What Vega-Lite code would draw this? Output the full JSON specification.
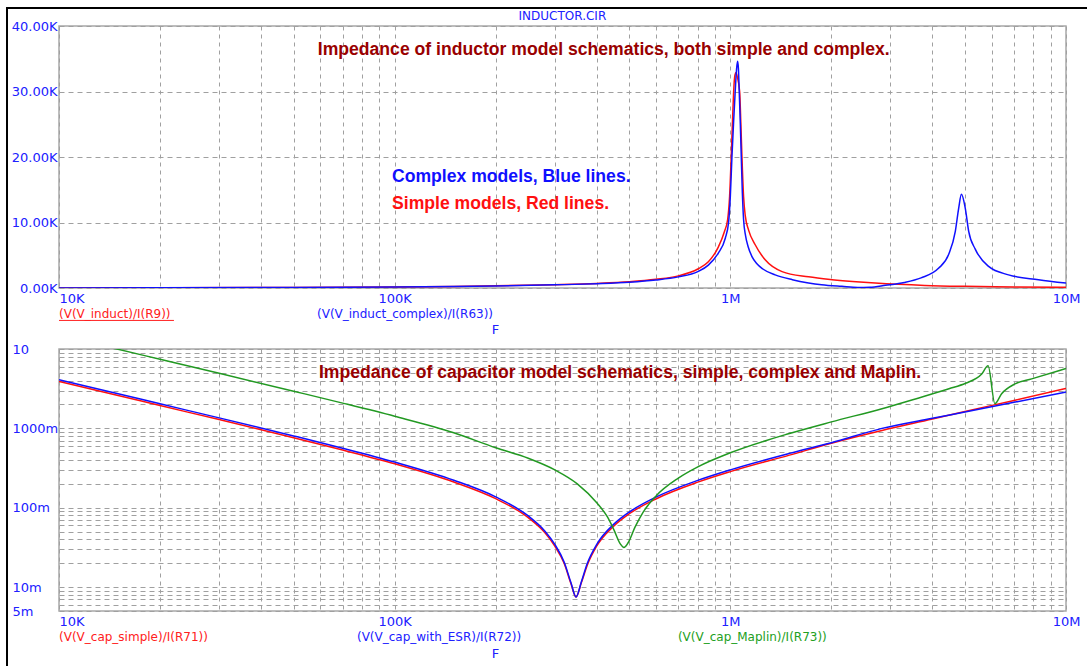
{
  "$schema": "https://vega.github.io/schema/vega-lite/v6.json",
  "background": "white",
  "padding": {"left": 4, "top": 6, "right": 0, "bottom": 0},
  "config": {
    "view": {"stroke": "#a8a8a8", "strokeWidth": 1.5},
    "font": "DejaVu Sans"
  },
  "datasets": {
    "inductor": [
      {"f": 10000, "z": 16, "s": "simple"},
      {"f": 20000, "z": 32, "s": "simple"},
      {"f": 50000, "z": 79, "s": "simple"},
      {"f": 100000, "z": 160, "s": "simple"},
      {"f": 150000, "z": 240, "s": "simple"},
      {"f": 200000, "z": 330, "s": "simple"},
      {"f": 300000, "z": 510, "s": "simple"},
      {"f": 400000, "z": 700, "s": "simple"},
      {"f": 500000, "z": 950, "s": "simple"},
      {"f": 600000, "z": 1320, "s": "simple"},
      {"f": 700000, "z": 1850, "s": "simple"},
      {"f": 800000, "z": 2900, "s": "simple"},
      {"f": 860000, "z": 4000, "s": "simple"},
      {"f": 920000, "z": 6200, "s": "simple"},
      {"f": 960000, "z": 8600, "s": "simple"},
      {"f": 982000, "z": 10500, "s": "simple"},
      {"f": 995000, "z": 14000, "s": "simple"},
      {"f": 1006000, "z": 20000, "s": "simple"},
      {"f": 1015000, "z": 25500, "s": "simple"},
      {"f": 1023000, "z": 30000, "s": "simple"},
      {"f": 1032000, "z": 32500, "s": "simple"},
      {"f": 1040000, "z": 32900, "s": "simple"},
      {"f": 1048000, "z": 32300, "s": "simple"},
      {"f": 1066000, "z": 30000, "s": "simple"},
      {"f": 1075000, "z": 25000, "s": "simple"},
      {"f": 1083000, "z": 20000, "s": "simple"},
      {"f": 1095000, "z": 14000, "s": "simple"},
      {"f": 1108000, "z": 11000, "s": "simple"},
      {"f": 1134000, "z": 8800, "s": "simple"},
      {"f": 1186000, "z": 6600, "s": "simple"},
      {"f": 1270000, "z": 4300, "s": "simple"},
      {"f": 1426000, "z": 2500, "s": "simple"},
      {"f": 1710000, "z": 1700, "s": "simple"},
      {"f": 2010000, "z": 1270, "s": "simple"},
      {"f": 2370000, "z": 950, "s": "simple"},
      {"f": 2700000, "z": 750, "s": "simple"},
      {"f": 3800000, "z": 400, "s": "simple"},
      {"f": 5000000, "z": 260, "s": "simple"},
      {"f": 7000000, "z": 160, "s": "simple"},
      {"f": 10000000, "z": 100, "s": "simple"},
      {"f": 10000, "z": 15, "s": "complex"},
      {"f": 50000, "z": 75, "s": "complex"},
      {"f": 100000, "z": 150, "s": "complex"},
      {"f": 150000, "z": 230, "s": "complex"},
      {"f": 200000, "z": 310, "s": "complex"},
      {"f": 300000, "z": 480, "s": "complex"},
      {"f": 400000, "z": 660, "s": "complex"},
      {"f": 500000, "z": 880, "s": "complex"},
      {"f": 600000, "z": 1220, "s": "complex"},
      {"f": 700000, "z": 1700, "s": "complex"},
      {"f": 800000, "z": 2500, "s": "complex"},
      {"f": 860000, "z": 3500, "s": "complex"},
      {"f": 920000, "z": 5300, "s": "complex"},
      {"f": 966000, "z": 7600, "s": "complex"},
      {"f": 988000, "z": 10000, "s": "complex"},
      {"f": 1000000, "z": 14000, "s": "complex"},
      {"f": 1011000, "z": 20000, "s": "complex"},
      {"f": 1023000, "z": 25500, "s": "complex"},
      {"f": 1034000, "z": 30000, "s": "complex"},
      {"f": 1044000, "z": 33500, "s": "complex"},
      {"f": 1051000, "z": 34600, "s": "complex"},
      {"f": 1057000, "z": 33500, "s": "complex"},
      {"f": 1063000, "z": 30000, "s": "complex"},
      {"f": 1071000, "z": 25000, "s": "complex"},
      {"f": 1078000, "z": 20000, "s": "complex"},
      {"f": 1086000, "z": 14500, "s": "complex"},
      {"f": 1095000, "z": 10500, "s": "complex"},
      {"f": 1110000, "z": 8000, "s": "complex"},
      {"f": 1130000, "z": 6300, "s": "complex"},
      {"f": 1160000, "z": 4800, "s": "complex"},
      {"f": 1200000, "z": 3700, "s": "complex"},
      {"f": 1250000, "z": 2900, "s": "complex"},
      {"f": 1360000, "z": 2000, "s": "complex"},
      {"f": 1530000, "z": 1270, "s": "complex"},
      {"f": 1710000, "z": 780, "s": "complex"},
      {"f": 1870000, "z": 500, "s": "complex"},
      {"f": 2150000, "z": 250, "s": "complex"},
      {"f": 2400000, "z": 90, "s": "complex"},
      {"f": 2600000, "z": 120, "s": "complex"},
      {"f": 2900000, "z": 420, "s": "complex"},
      {"f": 3300000, "z": 850, "s": "complex"},
      {"f": 3700000, "z": 1550, "s": "complex"},
      {"f": 4170000, "z": 3000, "s": "complex"},
      {"f": 4470000, "z": 5100, "s": "complex"},
      {"f": 4680000, "z": 8650, "s": "complex"},
      {"f": 4790000, "z": 12200, "s": "complex"},
      {"f": 4880000, "z": 14300, "s": "complex"},
      {"f": 5010000, "z": 12200, "s": "complex"},
      {"f": 5130000, "z": 8650, "s": "complex"},
      {"f": 5370000, "z": 5900, "s": "complex"},
      {"f": 5880000, "z": 3300, "s": "complex"},
      {"f": 6740000, "z": 2000, "s": "complex"},
      {"f": 8280000, "z": 1270, "s": "complex"},
      {"f": 10000000, "z": 750, "s": "complex"}
    ],
    "capacitor": [
      {"f": 10000, "z": 3.9, "s": "simple"},
      {"f": 15000, "z": 2.6, "s": "simple"},
      {"f": 20000, "z": 1.94, "s": "simple"},
      {"f": 30000, "z": 1.29, "s": "simple"},
      {"f": 50000, "z": 0.764, "s": "simple"},
      {"f": 70000, "z": 0.534, "s": "simple"},
      {"f": 100000, "z": 0.358, "s": "simple"},
      {"f": 150000, "z": 0.211, "s": "simple"},
      {"f": 200000, "z": 0.13, "s": "simple"},
      {"f": 250000, "z": 0.075, "s": "simple"},
      {"f": 280000, "z": 0.0486, "s": "simple"},
      {"f": 300000, "z": 0.0328, "s": "simple"},
      {"f": 320000, "z": 0.0198, "s": "simple"},
      {"f": 335000, "z": 0.0111, "s": "simple"},
      {"f": 347000, "z": 0.0075, "s": "simple"},
      {"f": 360000, "z": 0.0114, "s": "simple"},
      {"f": 375000, "z": 0.019, "s": "simple"},
      {"f": 400000, "z": 0.033, "s": "simple"},
      {"f": 450000, "z": 0.059, "s": "simple"},
      {"f": 500000, "z": 0.084, "s": "simple"},
      {"f": 600000, "z": 0.129, "s": "simple"},
      {"f": 800000, "z": 0.21, "s": "simple"},
      {"f": 1000000, "z": 0.285, "s": "simple"},
      {"f": 1500000, "z": 0.46, "s": "simple"},
      {"f": 2000000, "z": 0.65, "s": "simple"},
      {"f": 2830000, "z": 0.94, "s": "simple"},
      {"f": 4000000, "z": 1.31, "s": "simple"},
      {"f": 5000000, "z": 1.63, "s": "simple"},
      {"f": 7000000, "z": 2.25, "s": "simple"},
      {"f": 10000000, "z": 3.18, "s": "simple"},
      {"f": 10000, "z": 4.1, "s": "esr"},
      {"f": 15000, "z": 2.73, "s": "esr"},
      {"f": 20000, "z": 2.04, "s": "esr"},
      {"f": 30000, "z": 1.356, "s": "esr"},
      {"f": 50000, "z": 0.803, "s": "esr"},
      {"f": 70000, "z": 0.562, "s": "esr"},
      {"f": 100000, "z": 0.376, "s": "esr"},
      {"f": 150000, "z": 0.222, "s": "esr"},
      {"f": 200000, "z": 0.137, "s": "esr"},
      {"f": 250000, "z": 0.0788, "s": "esr"},
      {"f": 280000, "z": 0.051, "s": "esr"},
      {"f": 300000, "z": 0.0345, "s": "esr"},
      {"f": 320000, "z": 0.0206, "s": "esr"},
      {"f": 335000, "z": 0.0114, "s": "esr"},
      {"f": 347000, "z": 0.0075, "s": "esr"},
      {"f": 360000, "z": 0.0117, "s": "esr"},
      {"f": 375000, "z": 0.02, "s": "esr"},
      {"f": 400000, "z": 0.0346, "s": "esr"},
      {"f": 450000, "z": 0.0622, "s": "esr"},
      {"f": 500000, "z": 0.0883, "s": "esr"},
      {"f": 600000, "z": 0.136, "s": "esr"},
      {"f": 800000, "z": 0.221, "s": "esr"},
      {"f": 1000000, "z": 0.3, "s": "esr"},
      {"f": 1500000, "z": 0.484, "s": "esr"},
      {"f": 2000000, "z": 0.66, "s": "esr"},
      {"f": 2830000, "z": 1.0, "s": "esr"},
      {"f": 4000000, "z": 1.34, "s": "esr"},
      {"f": 5000000, "z": 1.61, "s": "esr"},
      {"f": 7000000, "z": 2.13, "s": "esr"},
      {"f": 10000000, "z": 2.87, "s": "esr"},
      {"f": 10000, "z": 14.87, "s": "maplin"},
      {"f": 15000, "z": 9.91, "s": "maplin"},
      {"f": 20000, "z": 7.42, "s": "maplin"},
      {"f": 30000, "z": 4.94, "s": "maplin"},
      {"f": 50000, "z": 2.94, "s": "maplin"},
      {"f": 70000, "z": 2.08, "s": "maplin"},
      {"f": 100000, "z": 1.42, "s": "maplin"},
      {"f": 150000, "z": 0.88, "s": "maplin"},
      {"f": 200000, "z": 0.57, "s": "maplin"},
      {"f": 250000, "z": 0.42, "s": "maplin"},
      {"f": 300000, "z": 0.3, "s": "maplin"},
      {"f": 350000, "z": 0.2, "s": "maplin"},
      {"f": 400000, "z": 0.1155, "s": "maplin"},
      {"f": 430000, "z": 0.077, "s": "maplin"},
      {"f": 450000, "z": 0.0527, "s": "maplin"},
      {"f": 470000, "z": 0.0351, "s": "maplin"},
      {"f": 482000, "z": 0.0316, "s": "maplin"},
      {"f": 495000, "z": 0.0357, "s": "maplin"},
      {"f": 520000, "z": 0.0569, "s": "maplin"},
      {"f": 550000, "z": 0.088, "s": "maplin"},
      {"f": 600000, "z": 0.14, "s": "maplin"},
      {"f": 700000, "z": 0.236, "s": "maplin"},
      {"f": 800000, "z": 0.327, "s": "maplin"},
      {"f": 1000000, "z": 0.492, "s": "maplin"},
      {"f": 1500000, "z": 0.862, "s": "maplin"},
      {"f": 2000000, "z": 1.207, "s": "maplin"},
      {"f": 2830000, "z": 1.77, "s": "maplin"},
      {"f": 3560000, "z": 2.35, "s": "maplin"},
      {"f": 4480000, "z": 3.15, "s": "maplin"},
      {"f": 5020000, "z": 3.7, "s": "maplin"},
      {"f": 5610000, "z": 4.84, "s": "maplin"},
      {"f": 5860000, "z": 6.14, "s": "maplin"},
      {"f": 6140000, "z": 2.05, "s": "maplin"},
      {"f": 6430000, "z": 2.73, "s": "maplin"},
      {"f": 7050000, "z": 3.63, "s": "maplin"},
      {"f": 7900000, "z": 4.2, "s": "maplin"},
      {"f": 10000000, "z": 5.69, "s": "maplin"}
    ]
  },
  "bounds": "flush",
  "spacing": 61,
  "resolve": {"scale": {"color": "independent"}},
  "vconcat": [
    {
      "width": 1007,
      "height": 262,
      "layer": [
        {
          "data": {"name": "inductor"},
          "mark": {"type": "line", "strokeWidth": 1.5, "clip": true, "interpolate": "monotone"},
          "encoding": {
            "x": {"field": "f", "type": "quantitative",
              "scale": {"type": "log", "domain": [10000, 10000000], "nice": false},
              "axis": {
                "values": [10000,20000,30000,40000,50000,60000,70000,80000,90000,100000,200000,300000,400000,500000,600000,700000,800000,900000,1000000,2000000,3000000,4000000,5000000,6000000,7000000,8000000,9000000,10000000],
                "labelExpr": "datum.value == 10000 ? '10K' : datum.value == 100000 ? '100K' : datum.value == 1000000 ? '1M' : datum.value == 10000000 ? '10M' : ''",
                "grid": true, "gridDash": [4, 4], "gridColor": "#a0a0a0", "gridWidth": 1,
                "ticks": false, "domain": false,
                "labelColor": "#2020ff", "labelFontSize": 13, "labelFont": "DejaVu Sans", "labelPadding": 4,
                "labelAlign": {"condition": {"test": "datum.value <= 10000", "value": "left"}, "value": "center"},
                "labelFlush": false, "labelOverlap": false,
                "title": "F", "titleColor": "#2020ff", "titleFont": "DejaVu Sans", "titleFontWeight": "normal", "titleFontSize": 13,
                "titleX": 436, "titleY": 41, "titleBaseline": "middle", "titleAlign": "center"
              }},
            "y": {"field": "z", "type": "quantitative",
              "scale": {"domain": [0, 40000], "nice": false},
              "axis": {
                "values": [0, 10000, 20000, 30000, 40000],
                "labelExpr": "format(datum.value / 1000, '.2f') + 'K'",
                "grid": true, "gridDash": [5, 4], "gridColor": "#a0a0a0", "gridWidth": 1,
                "ticks": false, "domain": false,
                "labelColor": "#2020ff", "labelFontSize": 13, "labelFont": "DejaVu Sans", "labelPadding": 2,
                "labelAlign": "right", "labelBaseline": "middle", "labelFlush": false, "labelOverlap": false,
                "title": null
              }},
            "color": {"field": "s", "type": "nominal", "scale": {"domain": ["simple", "complex"], "range": ["#ff1010", "#1010ff"]}, "legend": null}
          }
        },
        {
          "data": {"values": [{}]},
          "mark": {"type": "text", "align": "center", "baseline": "middle", "font": "DejaVu Sans", "fontSize": 12, "color": "#2020ff"},
          "encoding": {"x": {"datum": 316000, "type": "quantitative"}, "y": {"datum": 41500, "type": "quantitative"}, "text": {"value": "INDUCTOR.CIR"}}
        },
        {
          "data": {"values": [{}]},
          "mark": {"type": "text", "align": "left", "baseline": "middle", "font": "Liberation Sans", "fontSize": 17.6, "fontWeight": "bold", "color": "#990000"},
          "encoding": {"x": {"datum": 59000, "type": "quantitative"}, "y": {"datum": 36300, "type": "quantitative"}, "text": {"value": "Impedance of inductor model schematics, both simple and complex."}}
        },
        {
          "data": {"values": [{}]},
          "mark": {"type": "text", "align": "left", "baseline": "middle", "font": "Liberation Sans", "fontSize": 17.6, "fontWeight": "bold", "color": "#1010ff"},
          "encoding": {"x": {"datum": 98200, "type": "quantitative"}, "y": {"datum": 16900, "type": "quantitative"}, "text": {"value": "Complex models, Blue lines."}}
        },
        {
          "data": {"values": [{}]},
          "mark": {"type": "text", "align": "left", "baseline": "middle", "font": "Liberation Sans", "fontSize": 17.6, "fontWeight": "bold", "color": "#ff1010"},
          "encoding": {"x": {"datum": 98200, "type": "quantitative"}, "y": {"datum": 12800, "type": "quantitative"}, "text": {"value": "Simple models, Red lines."}}
        },
        {
          "data": {"values": [{}]},
          "mark": {"type": "text", "align": "left", "baseline": "middle", "font": "DejaVu Sans", "fontSize": 12, "color": "#ff2020"},
          "encoding": {"x": {"datum": 10000, "type": "quantitative"}, "y": {"datum": -3900, "type": "quantitative"}, "text": {"value": "(V(V_induct)/I(R9))"}}
        },
        {
          "data": {"values": [{}]},
          "mark": {"type": "rule", "color": "#ff2020", "strokeWidth": 1, "clip": false},
          "encoding": {"x": {"datum": 10000, "type": "quantitative"}, "x2": {"datum": 22000}, "y": {"datum": -4950, "type": "quantitative"}}
        },
        {
          "data": {"values": [{}]},
          "mark": {"type": "text", "align": "left", "baseline": "middle", "font": "DejaVu Sans", "fontSize": 12, "color": "#2020ff"},
          "encoding": {"x": {"datum": 58700, "type": "quantitative"}, "y": {"datum": -3900, "type": "quantitative"}, "text": {"value": "(V(V_induct_complex)/I(R63))"}}
        },
        {
          "data": {"values": [{}]},
          "mark": {"type": "rule", "color": "#000000", "strokeWidth": 2, "clip": false},
          "encoding": {"x": {"datum": 6953, "type": "quantitative"}, "x2": {"datum": 11620000}, "y": {"datum": 42750, "type": "quantitative"}}
        },
        {
          "data": {"values": [{}]},
          "mark": {"type": "rule", "color": "#000000", "strokeWidth": 2, "clip": false},
          "encoding": {"x": {"datum": 7000, "type": "quantitative"}, "y": {"datum": 42750, "type": "quantitative"}, "y2": {"datum": -12000}}
        }
      ]
    },
    {
      "width": 1007,
      "height": 262,
      "layer": [
        {
          "data": {"name": "capacitor"},
          "mark": {"type": "line", "strokeWidth": 1.5, "clip": true, "interpolate": "monotone"},
          "encoding": {
            "x": {"field": "f", "type": "quantitative",
              "scale": {"type": "log", "domain": [10000, 10000000], "nice": false},
              "axis": {
                "values": [10000,20000,30000,40000,50000,60000,70000,80000,90000,100000,200000,300000,400000,500000,600000,700000,800000,900000,1000000,2000000,3000000,4000000,5000000,6000000,7000000,8000000,9000000,10000000],
                "labelExpr": "datum.value == 10000 ? '10K' : datum.value == 100000 ? '100K' : datum.value == 1000000 ? '1M' : datum.value == 10000000 ? '10M' : ''",
                "grid": true, "gridDash": [4, 4], "gridColor": "#a0a0a0", "gridWidth": 1,
                "ticks": false, "domain": false,
                "labelColor": "#2020ff", "labelFontSize": 13, "labelFont": "DejaVu Sans", "labelPadding": 4,
                "labelAlign": {"condition": {"test": "datum.value <= 10000", "value": "left"}, "value": "center"},
                "labelFlush": false, "labelOverlap": false,
                "title": "F", "titleColor": "#2020ff", "titleFont": "DejaVu Sans", "titleFontWeight": "normal", "titleFontSize": 13,
                "titleX": 436, "titleY": 42, "titleBaseline": "middle", "titleAlign": "center"
              }},
            "y": {"field": "z", "type": "quantitative",
              "scale": {"type": "log", "domain": [0.005, 10], "nice": false},
              "axis": {
                "values": [0.005,0.006,0.007,0.008,0.009,0.01,0.02,0.03,0.04,0.05,0.06,0.07,0.08,0.09,0.1,0.2,0.3,0.4,0.5,0.6,0.7,0.8,0.9,1,2,3,4,5,6,7,8,9,10],
                "labelExpr": "datum.value == 10 ? '10' : datum.value == 1 ? '1000m' : datum.value == 0.1 ? '100m' : datum.value == 0.01 ? '10m' : datum.value == 0.005 ? '5m' : ''",
                "grid": true, "gridDash": [5, 4], "gridColor": "#a0a0a0", "gridWidth": 1,
                "ticks": false, "domain": false,
                "labelColor": "#2020ff", "labelFontSize": 13, "labelFont": "DejaVu Sans", "labelPadding": 47,
                "labelAlign": "left", "labelBaseline": "middle", "labelFlush": false, "labelOverlap": false,
                "title": null
              }},
            "color": {"field": "s", "type": "nominal", "scale": {"domain": ["simple", "esr", "maplin"], "range": ["#ff1010", "#1010ff", "#229922"]}, "legend": null}
          }
        },
        {
          "data": {"values": [{}]},
          "mark": {"type": "text", "align": "left", "baseline": "middle", "font": "Liberation Sans", "fontSize": 17.6, "fontWeight": "bold", "color": "#990000"},
          "encoding": {"x": {"datum": 59500, "type": "quantitative"}, "y": {"datum": 4.98, "type": "quantitative"}, "text": {"value": "Impedance of capacitor model schematics, simple, complex and Maplin."}}
        },
        {
          "data": {"values": [{}]},
          "mark": {"type": "text", "align": "left", "baseline": "middle", "font": "DejaVu Sans", "fontSize": 12, "color": "#ff2020"},
          "encoding": {"x": {"datum": 10000, "type": "quantitative"}, "y": {"datum": 0.00235, "type": "quantitative"}, "text": {"value": "(V(V_cap_simple)/I(R71))"}}
        },
        {
          "data": {"values": [{}]},
          "mark": {"type": "text", "align": "left", "baseline": "middle", "font": "DejaVu Sans", "fontSize": 12, "color": "#2020ff"},
          "encoding": {"x": {"datum": 77200, "type": "quantitative"}, "y": {"datum": 0.00235, "type": "quantitative"}, "text": {"value": "(V(V_cap_with_ESR)/I(R72))"}}
        },
        {
          "data": {"values": [{}]},
          "mark": {"type": "text", "align": "left", "baseline": "middle", "font": "DejaVu Sans", "fontSize": 12, "color": "#22a022"},
          "encoding": {"x": {"datum": 698000, "type": "quantitative"}, "y": {"datum": 0.00235, "type": "quantitative"}, "text": {"value": "(V(V_cap_Maplin)/I(R73))"}}
        },
        {
          "data": {"values": [{}]},
          "mark": {"type": "rule", "color": "#000000", "strokeWidth": 2, "clip": false},
          "encoding": {"x": {"datum": 7000, "type": "quantitative"}, "y": {"datum": 12.6, "type": "quantitative"}, "y2": {"datum": 0.00101}}
        }
      ]
    }
  ]
}
